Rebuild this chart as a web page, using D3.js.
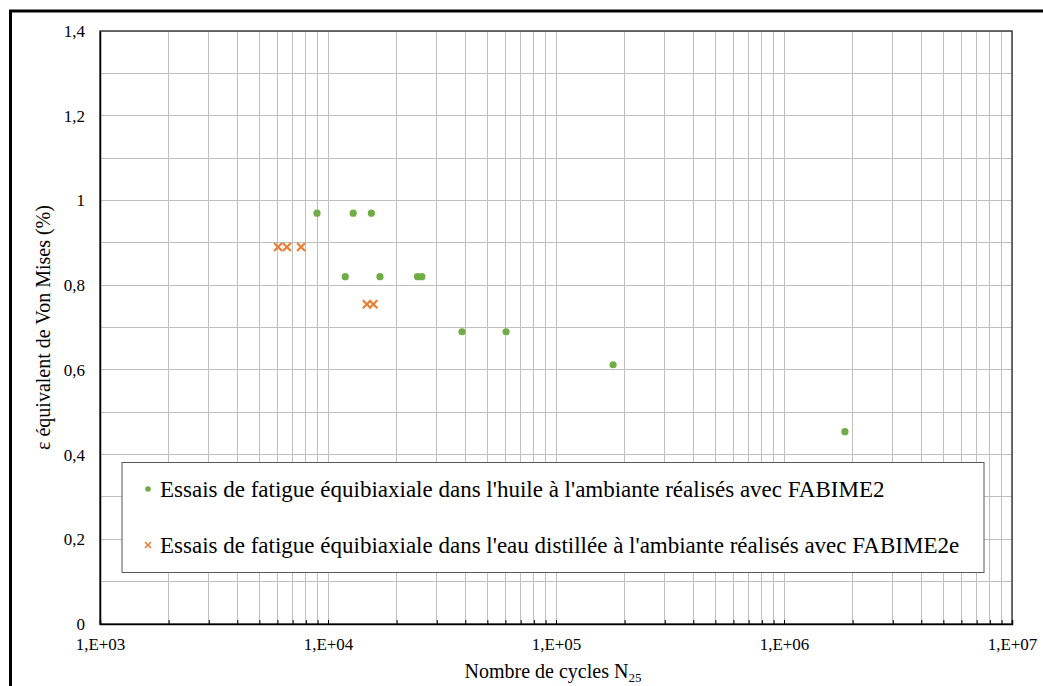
<!DOCTYPE html>
<html><head><meta charset="utf-8">
<script src="https://cdn.jsdelivr.net/npm/d3@7"></script>
<style>html,body{margin:0;padding:0;background:#fff;}svg{display:block;}</style>
</head><body>
<script>
// Data
const oilCycles = [8950, 12900, 15500, 11900, 16900, 24700, 25800, 38700, 60400, 178000, 1850000];
const oilStrain = [0.97, 0.97, 0.97, 0.82, 0.82, 0.82, 0.82, 0.69, 0.69, 0.612, 0.454];
const waterCycles = [6040, 6600, 7620, 14800, 15800];
const waterStrain = [0.89, 0.89, 0.89, 0.755, 0.755];
const xTickValues = [1e3, 1e4, 1e5, 1e6, 1e7];
const xTickLabels = ["1,E+03", "1,E+04", "1,E+05", "1,E+06", "1,E+07"];
const yTickValues = [0, 0.2, 0.4, 0.6, 0.8, 1, 1.2, 1.4];
const yTickLabels = ["0", "0,2", "0,4", "0,6", "0,8", "1", "1,2", "1,4"];
const seriesNames = ["Essais de fatigue équibiaxiale dans l'huile à l'ambiante réalisés avec FABIME2",
                     "Essais de fatigue équibiaxiale dans l'eau distillée à l'ambiante réalisés avec FABIME2e"];
const yTitle = "ε équivalent de Von Mises (%)";

const W = 1043, H = 686;
const m = {l: 100, t: 31, r: 1012, b: 624};
const font = "Liberation Serif";
const green = "#70AD47", orange = "#ED7D31";

const svg = d3.select("body").append("svg").attr("width", W).attr("height", H)
  .attr("font-family", font);

svg.append("rect").attr("width", W).attr("height", H).attr("fill", "#fff");
// outer frame
svg.append("rect").attr("x", 10.5).attr("y", 11).attr("width", W + 20).attr("height", H + 20)
  .attr("fill", "none").attr("stroke", "#000").attr("stroke-width", 3);

const x = d3.scaleLog().domain([1e3, 1e7]).range([m.l, m.r]);
const y = d3.scaleLinear().domain([0, 1.4]).range([m.b, m.t]);

// grid
const minorX = [];
for (let e = 3; e < 7; e++) for (let k = 1; k <= 9; k++) minorX.push(k * Math.pow(10, e));
minorX.push(1e7);
const g = svg.append("g");
g.selectAll("line.vx").data(minorX).join("line")
  .attr("x1", d => x(d)).attr("x2", d => x(d)).attr("y1", m.t).attr("y2", m.b)
  .attr("stroke", "#bfbfbf").attr("stroke-width", 1).attr("shape-rendering", "crispEdges");
const gridY = d3.range(0, 15).map(i => i / 10);
g.selectAll("line.hy").data(gridY).join("line")
  .attr("x1", m.l).attr("x2", m.r).attr("y1", d => y(d)).attr("y2", d => y(d))
  .attr("stroke", "#bfbfbf").attr("stroke-width", 1).attr("shape-rendering", "crispEdges");

// plot frame
svg.append("rect").attr("x", m.l).attr("y", m.t).attr("width", m.r - m.l).attr("height", m.b - m.t)
  .attr("fill", "none").attr("stroke", "#404040").attr("stroke-width", 1.5);

// x ticks (inside, upward) via axis
const xAxis = d3.axisTop(x).tickValues(minorX).tickSize(4).tickFormat("");
svg.append("g").attr("transform", `translate(0,${m.b})`).call(xAxis)
  .call(s => s.select(".domain").attr("stroke", "#000").attr("stroke-width", 1.5))
  .call(s => s.selectAll(".tick line").attr("stroke", "#000"));

// x labels
const xLab = d3.axisBottom(x).tickValues(xTickValues).tickSize(0).tickPadding(14)
  .tickFormat((d, i) => xTickLabels[i]);
svg.append("g").attr("transform", `translate(0,${m.b})`).call(xLab)
  .attr("font-family", font).attr("font-size", 17)
  .call(s => s.select(".domain").remove())
  .call(s => s.selectAll("text").attr("fill", "#000"));

// y labels
const yAx = d3.axisLeft(y).tickValues(yTickValues).tickSize(0).tickPadding(15)
  .tickFormat((d, i) => yTickLabels[i]);
svg.append("g").attr("transform", `translate(${m.l},0)`).call(yAx)
  .attr("font-family", font).attr("font-size", 17)
  .call(s => s.select(".domain").attr("stroke", "#000").attr("stroke-width", 1.5))
  .call(s => s.selectAll("text").attr("fill", "#000"));

// axis titles
const xt = svg.append("text").attr("x", 553).attr("y", 678).attr("text-anchor", "middle")
  .attr("font-family", font).attr("font-size", 20).attr("fill", "#000");
xt.append("tspan").text("Nombre de cycles N");
xt.append("tspan").attr("font-size", 13).attr("dy", 4).text("25");

svg.append("text").attr("transform", `translate(50,${(m.t + m.b) / 2}) rotate(-90)`)
  .attr("font-family", font).attr("text-anchor", "middle").attr("font-size", 20).attr("fill", "#000").text(yTitle);

// markers
const crossPath = (s) => {
  const h = s / 2, w = s * 0.16;
  return `M${-h},${-h + w}L${-h + w},${-h}L0,${-w}L${h - w},${-h}L${h},${-h + w}L${w},0L${h},${h - w}L${h - w},${h}L0,${w}L${-h + w},${h}L${-h},${h - w}L${-w},0Z`;
};
const oil = oilCycles.map((c, i) => ({c, s: oilStrain[i]}));
const water = waterCycles.map((c, i) => ({c, s: waterStrain[i]}));
svg.append("g").selectAll("circle").data(oil).join("circle")
  .attr("cx", d => x(d.c)).attr("cy", d => y(d.s)).attr("r", 3.6).attr("fill", green);
svg.append("g").selectAll("path").data(water).join("path")
  .attr("transform", d => `translate(${x(d.c)},${y(d.s)})`).attr("d", crossPath(9.5)).attr("fill", orange);

// legend
const lg = svg.append("g");
lg.append("rect").attr("x", 122).attr("y", 462.5).attr("width", 862).attr("height", 110)
  .attr("fill", "#fff").attr("stroke", "#595959").attr("stroke-width", 1);
const rows = [489, 545];
lg.append("circle").attr("cx", 148).attr("cy", rows[0]).attr("r", 2.8).attr("fill", green);
lg.append("path").attr("transform", `translate(148,${rows[1]})`).attr("d", crossPath(7)).attr("fill", orange);
seriesNames.forEach((n, i) => {
  lg.append("text").attr("x", 160).attr("y", rows[i]).attr("dy", "0.35em")
    .attr("font-family", font).attr("font-size", 23).attr("fill", "#000").text(n);
});
</script>
</body></html>
